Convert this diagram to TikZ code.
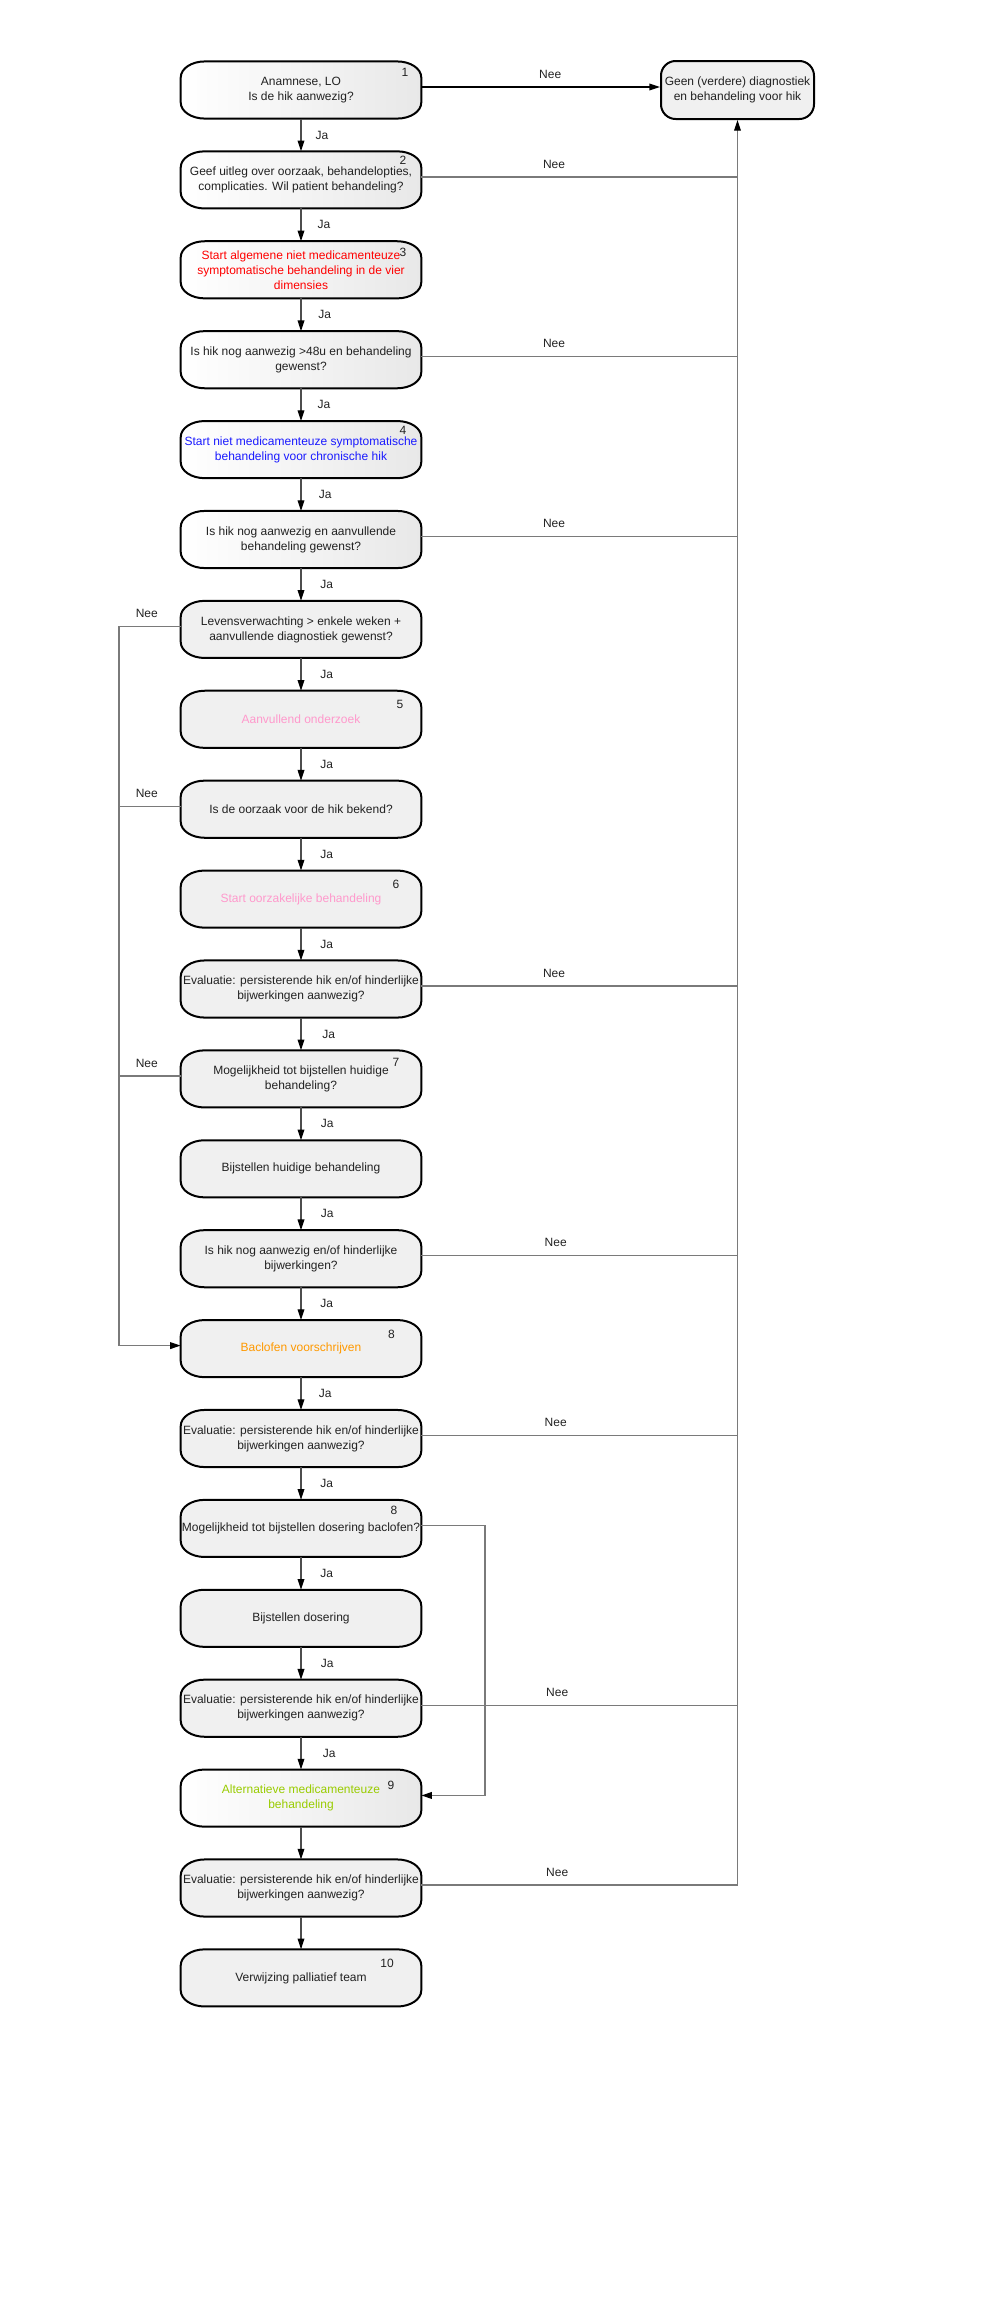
\documentclass[tikz,border=0pt]{standalone}
\usepackage{fontspec}
\setmainfont{Liberation Sans}
\usetikzlibrary{arrows.meta,backgrounds}
\definecolor{boxfill}{HTML}{F0F0F0}
\definecolor{txt}{HTML}{222222}
\definecolor{cred}{HTML}{FF0000}
\definecolor{cblue}{HTML}{1A1AFF}
\definecolor{cpink}{HTML}{FF99CC}
\definecolor{corange}{HTML}{FF9900}
\definecolor{cgreen}{HTML}{99CC00}
\definecolor{linegray}{HTML}{7A7A7A}
\definecolor{jagray}{HTML}{4D4D4D}
\newcommand\ellbox[2]{%
  \path[#2] ([xshift=18pt]#1.north west) -- ([xshift=-18pt]#1.north east)
    arc[start angle=90,end angle=0,x radius=18pt,y radius=12pt]
    -- ([yshift=12pt]#1.south east)
    arc[start angle=0,end angle=-90,x radius=18pt,y radius=12pt]
    -- ([xshift=18pt]#1.south west)
    arc[start angle=270,end angle=180,x radius=18pt,y radius=12pt]
    -- ([yshift=-12pt]#1.north west)
    arc[start angle=180,end angle=90,x radius=18pt,y radius=12pt] -- cycle;}
\begin{document}
\begin{tikzpicture}[x=0.75pt,y=0.75pt,
  font=\fontsize{9}{11.25}\selectfont,
  box/.style={minimum width=180pt,minimum height=42.45pt,inner sep=0pt,align=center,text=txt},
  tgt/.style={draw=black,line width=1.5pt,fill=boxfill,rounded corners=11pt,
    minimum width=114.75pt,minimum height=43.5pt,inner sep=0pt,align=center,text=txt},
  flatbox/.style={draw=black,line width=1.5pt,fill=boxfill},
  shadebox/.style={draw=black,line width=1.5pt,left color=white,right color=black!9},
  conn/.style={draw=linegray,line width=1pt},
  tip/.style={-{Triangle[length=8pt,width=5pt,color=black]}},
  ja/.style={draw=jagray,line width=0.9pt,tip},
  lbl/.style={inner sep=0pt,text=txt},
  num/.style={inner sep=0pt,text=txt}]
\useasboundingbox (0,0) rectangle (1000,-2300);

% main column
\node[box] (b1) at (301,-90) {Anamnese, LO\\Is de hik aanwezig?};
\node[box] (b2) at (301,-179.9) {Geef uitleg over oorzaak, behandelopties,\\complicaties. Wil patient behandeling?};
\node[box,text=cred] (b3) at (301,-269.8) {Start algemene niet medicamenteuze\\symptomatische behandeling in de vier\\dimensies};
\node[box] (b4) at (301,-359.7) {Is hik nog aanwezig >48u en behandeling\\gewenst?};
\node[box,text=cblue] (b5) at (301,-449.6) {Start niet medicamenteuze symptomatische\\behandeling voor chronische hik};
\node[box] (b6) at (301,-539.5) {Is hik nog aanwezig en aanvullende\\behandeling gewenst?};
\node[box] (b7) at (301,-629.4) {Levensverwachting > enkele weken +\\aanvullende diagnostiek gewenst?};
\node[box,text=cpink] (b8) at (301,-719.3) {Aanvullend onderzoek};
\node[box] (b9) at (301,-809.2) {Is de oorzaak voor de hik bekend?};
\node[box,text=cpink] (b10) at (301,-899.1) {Start oorzakelijke behandeling};
\node[box] (b11) at (301,-989) {Evaluatie: persisterende hik en/of hinderlijke\\bijwerkingen aanwezig?};
\node[box] (b12) at (301,-1078.9) {Mogelijkheid tot bijstellen huidige\\behandeling?};
\node[box] (b13) at (301,-1168.8) {Bijstellen huidige behandeling};
\node[box] (b14) at (301,-1258.7) {Is hik nog aanwezig en/of hinderlijke\\bijwerkingen?};
\node[box,text=corange] (b15) at (301,-1348.6) {Baclofen voorschrijven};
\node[box] (b16) at (301,-1438.5) {Evaluatie: persisterende hik en/of hinderlijke\\bijwerkingen aanwezig?};
\node[box] (b17) at (301,-1528.4) {Mogelijkheid tot bijstellen dosering baclofen?};
\node[box] (b18) at (301,-1618.3) {Bijstellen dosering};
\node[box] (b19) at (301,-1708.2) {Evaluatie: persisterende hik en/of hinderlijke\\bijwerkingen aanwezig?};
\node[box,text=cgreen] (b20) at (301,-1798.1) {Alternatieve medicamenteuze\\behandeling};
\node[box] (b21) at (301,-1888) {Evaluatie: persisterende hik en/of hinderlijke\\bijwerkingen aanwezig?};
\node[box] (b22) at (301,-1977.9) {Verwijzing palliatief team};

\node[tgt] (t) at (737.5,-90) {Geen (verdere) diagnostiek\\en behandeling voor hik};

% box outlines
\begin{scope}[on background layer]
  \foreach \n in {b1,b2,b3,b4,b5,b6,b20} {\ellbox{\n}{shadebox}}
  \foreach \n in {b7,b8,b9,b10,b11,b12,b13,b14,b15,b16,b17,b18,b19,b21,b22} {\ellbox{\n}{flatbox}}
\end{scope}

% step numbers
\node[num] (n1) at (405,-72) {1};
\node[num] (n2) at (403,-160) {2};
\node[num] (n3) at (403,-252) {3};
\node[num] (n4) at (403,-430) {4};
\node[num] (n5) at (400,-704) {5};
\node[num] (n6) at (396,-884) {6};
\node[num] (n7) at (396,-1062) {7};
\node[num] (n8) at (391.5,-1334) {8};
\node[num] (n8b) at (394,-1510) {8};
\node[num] (n9) at (391,-1785) {9};
\node[num] (n10) at (387,-1963) {10};

% Ja arrows
\draw[ja] (b1) -- node[lbl,right=10.5pt] (j1) {Ja} (b2);
\draw[ja] (b2) -- node[lbl,right=12pt] (j2) {Ja} (b3);
\draw[ja] (b3) -- node[lbl,right=12.5pt] (j3) {Ja} (b4);
\draw[ja] (b4) -- node[lbl,right=12pt] (j4) {Ja} (b5);
\draw[ja] (b5) -- node[lbl,right=13pt] (j5) {Ja} (b6);
\draw[ja] (b6) -- node[lbl,right=14pt] (j6) {Ja} (b7);
\draw[ja] (b7) -- node[lbl,right=14pt] (j7) {Ja} (b8);
\draw[ja] (b8) -- node[lbl,right=14pt] (j8) {Ja} (b9);
\draw[ja] (b9) -- node[lbl,right=14pt] (j9) {Ja} (b10);
\draw[ja] (b10) -- node[lbl,right=14pt] (j10) {Ja} (b11);
\draw[ja] (b11) -- node[lbl,right=15.5pt] (j11) {Ja} (b12);
\draw[ja] (b12) -- node[lbl,right=14.5pt] (j12) {Ja} (b13);
\draw[ja] (b13) -- node[lbl,right=14.5pt] (j13) {Ja} (b14);
\draw[ja] (b14) -- node[lbl,right=14pt] (j14) {Ja} (b15);
\draw[ja] (b15) -- node[lbl,right=13pt] (j15) {Ja} (b16);
\draw[ja] (b16) -- node[lbl,right=14pt] (j16) {Ja} (b17);
\draw[ja] (b17) -- node[lbl,right=14pt] (j17) {Ja} (b18);
\draw[ja] (b18) -- node[lbl,right=14.5pt] (j18) {Ja} (b19);
\draw[ja] (b19) -- node[lbl,right=16pt] (j19) {Ja} (b20);
\draw[ja] (b20) -- (b21);
\draw[ja] (b21) -- (b22);

% right trunk
\coordinate (jr2) at (737.5,-176.9);
\coordinate (jr4) at (737.5,-356.7);
\coordinate (jr6) at (737.5,-536.5);
\coordinate (jr11) at (737.5,-986);
\coordinate (jr14) at (737.5,-1255.7);
\coordinate (jr16) at (737.5,-1435.5);
\coordinate (jr19) at (737.5,-1705.2);
\coordinate (jr21) at (737.5,-1885);

\draw[conn,draw=black,tip] ([yshift=2.25pt]b1.east) -- node[lbl,above=6pt,pos=0.54] (e1) {Nee} ([yshift=2.25pt]t.west);
\draw[conn] ([yshift=2.25pt]b2.east) -- node[lbl,above=6pt,pos=0.42] (e2) {Nee} (jr2);
\draw[conn] ([yshift=2.25pt]b4.east) -- node[lbl,above=6pt,pos=0.42] (e4) {Nee} (jr4);
\draw[conn] ([yshift=2.25pt]b6.east) -- node[lbl,above=6pt,pos=0.42] (e6) {Nee} (jr6);
\draw[conn] ([yshift=2.25pt]b11.east) -- node[lbl,above=6pt,pos=0.42] (e11) {Nee} (jr11);
\draw[conn] ([yshift=2.25pt]b14.east) -- node[lbl,above=6pt,pos=0.425] (e14) {Nee} (jr14);
\draw[conn] ([yshift=2.25pt]b16.east) -- node[lbl,above=6pt,pos=0.425] (e16) {Nee} (jr16);
\draw[conn] ([yshift=2.25pt]b19.east) -- node[lbl,above=6pt,pos=0.43] (e19) {Nee} (jr19);
\draw[conn] ([yshift=2.25pt]b21.east) -- node[lbl,above=6pt,pos=0.43] (e21) {Nee} (jr21);
\draw[conn,tip] (jr21) -- (t.south);

% left trunk
\coordinate (jl7) at (119,-626.4);
\coordinate (jl9) at (119,-806.2);
\coordinate (jl12) at (119,-1075.9);
\coordinate (jl15) at (119,-1345.6);
\draw[conn] ([yshift=2.25pt]b7.west) -- node[lbl,above=6pt,pos=0.55] (w7) {Nee} (jl7) -- (jl15);
\draw[conn] ([yshift=2.25pt]b9.west) -- node[lbl,above=6pt,pos=0.55] (w9) {Nee} (jl9);
\draw[conn] ([yshift=2.25pt]b12.west) -- node[lbl,above=6pt,pos=0.55] (w12) {Nee} (jl12);
\draw[conn,tip] (jl15) -- ([yshift=2.25pt]b15.west);

% dosering loop
\coordinate (dl) at (485,-1525.4);
\draw[conn,tip] ([yshift=2.25pt]b17.east) -- (dl) |- ([yshift=2pt]b20.east);
\end{tikzpicture}
\end{document}
